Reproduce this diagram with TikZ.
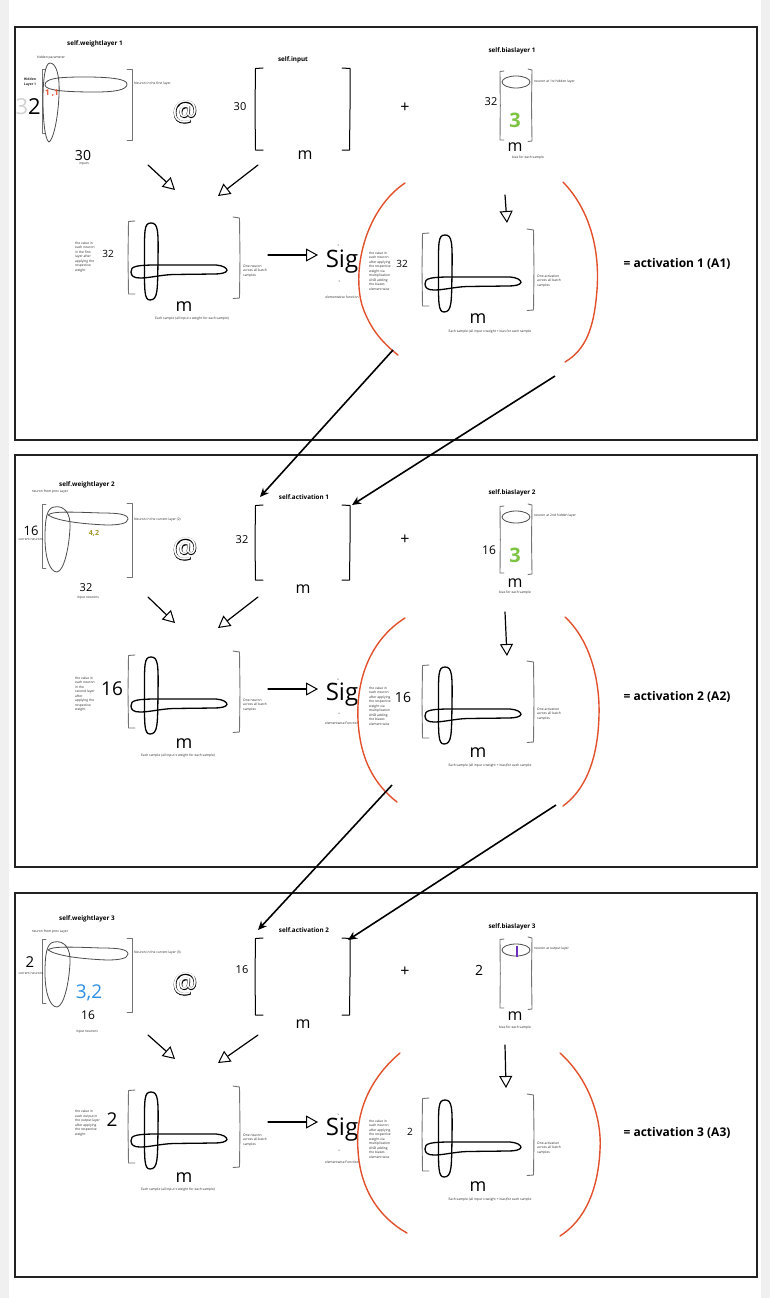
\documentclass[tikz,border=0pt]{standalone}
\usepackage{fontspec}
\setmainfont{Open Sans}
\usetikzlibrary{arrows.meta}
\definecolor{redc}{HTML}{E2512C}
\definecolor{greenc}{HTML}{7DC443}
\definecolor{bluec}{HTML}{2F8FE3}
\definecolor{olivec}{HTML}{A3962A}
\definecolor{purplec}{HTML}{6A2FC0}
\definecolor{panelc}{HTML}{222222}
\newcommand{\fsz}[1]{\fontsize{#1}{#1}\selectfont}
\font\atthick="Open Sans:embolden=3" at 28pt
\font\atthin="Open Sans" at 28pt
\newcommand{\outl}{\rlap{\atthick @}\textcolor{white}{\atthin @}}
\tikzset{
  ttl/.style={font=\fsz{6.3}\bfseries, inner sep=0},
  tinytxt/.style={font=\fontsize{3.3}{4.5}\selectfont, inner sep=0, align=left, text=black!85},
  hw/.style={inner sep=0},
  hand/.style={draw=black, line width=1.3pt, line join=round, line cap=round},
  wline/.style={draw=black!70, line width=0.8pt, line join=round, line cap=round},
  brk/.style={draw=black!55, line width=0.9pt, line cap=round, line join=round},
  redp/.style={draw=redc, line width=1.4pt, line cap=round},
  flow/.style={draw=black, line width=1.2pt, line cap=round, -{Triangle[open,length=12pt,width=13pt,line width=1pt]}},
  link/.style={draw=black, line width=1.6pt, -{Stealth[length=9pt,width=8pt]}},
  act/.style={font=\fsz{12}\bfseries, inner sep=0},
  panel/.style={draw=panelc, line width=2.5pt},
  atsym/.style={inner sep=0}
}
% matrix glyph with crossing ovals
\newcommand{\crossmat}[2]{%
\begin{scope}[shift={(#1,#2)}]
 \draw[brk] (7,3) -- (0.5,3.5) -- (0,40) -- (0.5,76) -- (7,76);
 \draw[brk] (105,-1) -- (111.5,0) -- (112,40) -- (111.5,80) -- (105,80.5);
 \draw[hand] (23,5) .. controls (30,5) and (30.5,12) .. (30,42) .. controls (29.5,72) and (30,82) .. (22,82) .. controls (16,82) and (16.5,72) .. (16.5,42) .. controls (16.5,12) and (16,5) .. (23,5) -- cycle;
 \draw[hand] (3,54) .. controls (2,48) and (10,47) .. (30,47) -- (88,47) .. controls (95,47.5) and (99,50) .. (99,52.5) .. controls (98,55) and (93,56) .. (86,56) -- (45,56.5) .. controls (32,57) and (22,60) .. (12,60) .. controls (6,60) and (3,58) .. (3,54) -- cycle;
\end{scope}}
% input matrix brackets
\newcommand{\inmat}[3]{%
\begin{scope}[shift={(#1,#2)}]
 \draw[hand, line width=1pt] (8,0) -- (0.5,0.5) -- (0,#3/2) -- (0.5,#3) -- (8,#3);
 \draw[hand, line width=1pt] (87,0) -- (95,0.5) -- (95,#3/2) -- (94.5,#3) -- (87,#3);
\end{scope}}
% bias matrix
\newcommand{\biasmat}[3]{%
\begin{scope}[shift={(#1,#2)}]
 \draw[brk] (4,1) -- (0,1.5) -- (0.3,#3/2) -- (0,#3-1) -- (4,#3-1);
 \draw[brk] (28,-1) -- (32,0) -- (31.5,#3/2) -- (32,#3) -- (28,#3+0.5);
 \draw[wline] (16,12) ellipse (14 and 6);
\end{scope}}
% weight matrix (layers 2,3)
\newcommand{\wmat}[2]{%
\begin{scope}[shift={(#1,#2)}]
 \draw[brk] (4,1) -- (0,1) -- (0,65) -- (4,65);
 \draw[brk] (85,0) -- (90,0) -- (90,74) -- (85,74);
 \draw[wline] (12,4) .. controls (22,2) and (29,10) .. (28,25) .. controls (27,45) and (22,68) .. (15,69) .. controls (8,69) and (3,55) .. (3,35) .. controls (3,15) and (5,5) .. (12,4) -- cycle;
 \draw[wline] (6,12) .. controls (10,8) and (30,9) .. (60,10) .. controls (75,10) and (86,11) .. (86,16) .. controls (86,21) and (75,22) .. (65,22) .. controls (40,21) and (15,18) .. (6,12) -- cycle;
\end{scope}}
\begin{document}
\begin{tikzpicture}[x=1pt,y=-1pt]
\useasboundingbox (0,0) rectangle (770,1298);
\fill[black!6] (0,0) rectangle (770,1298);
\fill[white] (9,0) rectangle (761,1298);

%================ PANEL 1 =================
\draw[panel] (15,27) rectangle (757,440);
% weight layer 1
\draw[brk] (45,69) -- (42,69) -- (42,133) -- (45,133);
\draw[brk] (127,69) -- (132,69) -- (132,140) -- (127,140);
\draw[wline] (50,63) .. controls (56,63) and (60,75) .. (59,95) .. controls (58,120) and (53,140) .. (49,142) .. controls (45,140) and (43,120) .. (43,100) .. controls (43,80) and (45,63) .. (50,63) -- cycle;
\draw[wline] (45,85) .. controls (45,78) and (60,77) .. (85,77) .. controls (110,77) and (127,79) .. (127,84) .. controls (127,90) and (115,92) .. (95,92) .. controls (70,92) and (45,91) .. (45,85) -- cycle;
\node[ttl] (w1t) at (95,44) {self.weightlayer 1};
\node[tinytxt] (w1hp) at (51,58) {hidden parameter};
\node[tinytxt, font=\fontsize{3.4}{5.5}\selectfont\bfseries] (w1hl) at (30,82) {Hidden\\Layer 1};
\node[hw, font=\fsz{22}, anchor=east] (w1rows) at (41,107) {\textcolor{black!18}{3}2};
\node[font=\fsz{8}\bfseries, text=redc, inner sep=0] (w1e) at (52,93) {1 ,1};
\node[tinytxt, anchor=west] (w1nl) at (134,84) {Neuron in the first layer};
\node[hw, font=\fsz{14}] (w1cols) at (83,155) {30};
\node[tinytxt] (w1in) at (84,164) {inputs};
\node[atsym] (at1) at (185,112) {\outl};
% input
\inmat{255}{68}{82}
\node[ttl] (i1t) at (293,60) {self.input};
\node[hw, font=\fsz{11}] (i1r) at (240,107) {30};
\node[hw, font=\fsz{16}] (i1m) at (305,155) {m};
\node[hw, font=\fsz{16}] (plus1) at (405,108) {+};
% bias 1
\biasmat{500}{70}{71}
\node[ttl] (b1t) at (512,51) {self.biaslayer 1};
\node[tinytxt, anchor=west] (b1n) at (534,82) {neuron at 1st hidden layer};
\node[hw, font=\fsz{11}] (b1r) at (491,102) {32};
\node[font=\fsz{20}\bfseries, text=greenc, inner sep=0] (b1v) at (515,120) {3};
\node[hw, font=\fsz{16}] (b1m) at (515,147) {m};
\node[tinytxt] (b1s) at (528,158) {bias for each sample};
% flow arrows
\coordinate (f1a) at (148,165); \coordinate (f1b) at (175,190);
\coordinate (f1c) at (258,165); \coordinate (f1d) at (218,196);
\coordinate (f1e) at (268,255); \coordinate (f1f) at (318,255);
\coordinate (f1g) at (505,195); \coordinate (f1h) at (507,223);
\draw[flow] (f1a) -- (f1b);
\draw[flow] (f1c) -- (f1d);
\draw[flow] (f1e) -- (f1f);
\draw[flow] (f1g) -- (f1h);
% Z1
\crossmat{128}{218}
\node[tinytxt, anchor=west] (z1d) at (75,257) {the value in\\each neuron\\in the first\\layer after\\applying the\\respective\\weight};
\node[hw, font=\fsz{10}] (z1r) at (108,254) {32};
\node[tinytxt, anchor=west] (z1n) at (243,271) {One neuron\\across all batch\\samples};
\node[hw, font=\fsz{18}] (z1m) at (184,307) {m};
\node[tinytxt, align=center] (z1s) at (192,319) {Each sample (all input x weight for each sample)};
% Sig
\node[hw, font=\fsz{24}] (sig1) at (342,262) {Sig};
\node[tinytxt, align=center] (sig1f) at (342,297) {elementwise function};
\fill (338,245) circle (0.5); \fill (339,281) circle (0.5);
% A1
\draw[redp] (405,183) .. controls (365,210) and (352,270) .. (362,305) .. controls (370,330) and (385,345) .. (398,355);
\draw[redp] (563,182) .. controls (590,210) and (600,250) .. (597,290) .. controls (594,330) and (585,350) .. (565,362);
\crossmat{422}{230}
\node[tinytxt, anchor=west] (a1d) at (369,271) {the value in\\each neuron\\after applying\\the respective\\weight via\\multiplication\\AND adding\\the biases\\element wise};
\node[hw, font=\fsz{10}] (a1r) at (402,264) {32};
\node[tinytxt, anchor=west] (a1n) at (537,281) {One activation\\across all batch\\samples};
\node[hw, font=\fsz{18}] (a1m) at (478,319) {m};
\node[tinytxt, align=center] (a1s) at (490,332) {Each sample (all input x weight + bias for each sample};
\node[act] (a1lab) at (677,264) {= activation 1 (A1)};

%================ PANEL 2 =================
\draw[panel] (15,455) rectangle (757,867);
\wmat{42}{503}
\node[ttl] (w2t) at (87,485) {self.weightlayer 2};
\node[tinytxt] (w2p) at (50,492) {neuron from prev Layer};
\node[tinytxt, anchor=west] (w2nl) at (134,520) {Neuron in the current layer (2)};
\node[hw, font=\fsz{13}] (w2rows) at (31,531) {16};
\node[tinytxt] (w2cn) at (31,539) {current neurons};
\node[font=\fsz{7}\bfseries, text=olivec, inner sep=0] (w2e) at (94,533) {4,2};
\node[hw, font=\fsz{11}] (w2cols) at (86,588) {32};
\node[tinytxt] (w2in) at (88,598) {input neurons};
\node[atsym] (at2) at (185,549) {\outl};
\inmat{255}{505}{75}
\node[ttl] (i2t) at (304,497) {self.activation 1};
\node[hw, font=\fsz{11}] (i2r) at (242,540) {32};
\node[hw, font=\fsz{16}] (i2m) at (303,589) {m};
\node[hw, font=\fsz{16}] (plus2) at (405,540) {+};
\biasmat{500}{505}{69}
\node[ttl] (b2t) at (512,493) {self.biaslayer 2};
\node[tinytxt, anchor=west] (b2n) at (534,516) {neuron at 2nd hidden layer};
\node[hw, font=\fsz{12}] (b2r) at (489,550) {16};
\node[font=\fsz{20}\bfseries, text=greenc, inner sep=0] (b2v) at (515,555) {3};
\node[hw, font=\fsz{16}] (b2m) at (515,583) {m};
\node[tinytxt] (b2s) at (515,593) {bias for each sample};
\coordinate (f2a) at (148,597); \coordinate (f2b) at (175,623);
\coordinate (f2c) at (258,597); \coordinate (f2d) at (218,628);
\coordinate (f2e) at (268,689); \coordinate (f2f) at (318,689);
\coordinate (f2g) at (505,612); \coordinate (f2h) at (507,656);
\draw[flow] (f2a) -- (f2b);
\draw[flow] (f2c) -- (f2d);
\draw[flow] (f2e) -- (f2f);
\draw[flow] (f2g) -- (f2h);
\crossmat{128}{652}
\node[tinytxt, anchor=west] (z2d) at (75,694) {the value in\\each neuron\\in the\\second layer\\after\\applying the\\respective\\weight};
\node[hw, font=\fsz{19}] (z2r) at (112,689) {16};
\node[tinytxt, anchor=west] (z2n) at (243,705) {One neuron\\across all batch\\samples};
\node[hw, font=\fsz{18}] (z2m) at (184,744) {m};
\node[tinytxt, align=center] (z2s) at (178,756) {Each sample (all input x weight for each sample)};
\node[hw, font=\fsz{24}] (sig2) at (342,695) {Sig};
\node[tinytxt, align=center] (sig2f) at (342,723) {elementwise Function};
\fill (338,679) circle (0.5); \fill (339,713) circle (0.5);
\draw[redp] (405,618) .. controls (370,640) and (356,680) .. (358,720) .. controls (360,760) and (375,785) .. (397,802);
\draw[redp] (565,617) .. controls (590,640) and (600,680) .. (599,715) .. controls (598,760) and (585,790) .. (563,806);
\crossmat{422}{662}
\node[tinytxt, anchor=west] (a2d) at (369,706) {the value in\\each neuron\\after applying\\the respective\\weight via\\multiplication\\AND adding\\the biases\\element wise};
\node[hw, font=\fsz{14}] (a2r) at (403,697) {16};
\node[tinytxt, anchor=west] (a2n) at (537,714) {One activation\\across all batch\\samples};
\node[hw, font=\fsz{18}] (a2m) at (478,753) {m};
\node[tinytxt, align=center] (a2s) at (490,766) {Each sample (all input x weight + bias)for each sample};
\node[act] (a2lab) at (677,697) {= activation 2 (A2)};

%================ PANEL 3 =================
\draw[panel] (15,893) rectangle (757,1277);
\wmat{42}{938}
\node[ttl] (w3t) at (87,919) {self.weightlayer 3};
\node[tinytxt] (w3p) at (50,932) {neuron from prev Layer};
\node[tinytxt, anchor=west] (w3nl) at (134,953) {Neuron in the current layer (3)};
\node[hw, font=\fsz{15}] (w3rows) at (30,962) {2};
\node[tinytxt] (w3cn) at (31,973) {current neurons};
\node[font=\fsz{19}, text=bluec, inner sep=0] (w3e) at (89,993) {3,2};
\node[hw, font=\fsz{12}] (w3cols) at (88,1015) {16};
\node[tinytxt] (w3in) at (87,1032) {input neurons};
\node[atsym] (at3) at (185,984) {\outl};
\inmat{255}{938}{77}
\node[ttl] (i3t) at (304,930) {self.activation 2};
\node[hw, font=\fsz{11}] (i3r) at (242,970) {16};
\node[hw, font=\fsz{16}] (i3m) at (303,1024) {m};
\node[hw, font=\fsz{16}] (plus3) at (405,972) {+};
\node[hw, font=\fsz{14}] (b3r) at (479,970) {2};
\biasmat{500}{938}{71}
\draw[purplec, line width=2.5pt] (517,946) -- (517,957);
\node[ttl] (b3t) at (512,927) {self.biaslayer 3};
\node[tinytxt, anchor=west] (b3n) at (534,949) {neuron at output layer};
\node[hw, font=\fsz{16}] (b3m) at (515,1016) {m};
\node[tinytxt] (b3s) at (515,1028) {bias for each sample};
\coordinate (f3a) at (148,1035); \coordinate (f3b) at (175,1059);
\coordinate (f3c) at (258,1035); \coordinate (f3d) at (218,1063);
\coordinate (f3e) at (268,1122); \coordinate (f3f) at (318,1122);
\coordinate (f3g) at (505,1045); \coordinate (f3h) at (506,1088);
\draw[flow] (f3a) -- (f3b);
\draw[flow] (f3c) -- (f3d);
\draw[flow] (f3e) -- (f3f);
\draw[flow] (f3g) -- (f3h);
\crossmat{128}{1087}
\node[tinytxt, anchor=west] (z3d) at (75,1123) {the value in\\each output in\\the output layer\\after applying\\the respective\\weight};
\node[hw, font=\fsz{19}] (z3r) at (112,1120) {2};
\node[tinytxt, anchor=west] (z3n) at (243,1140) {One neuron\\across all batch\\samples};
\node[hw, font=\fsz{18}] (z3m) at (184,1178) {m};
\node[tinytxt, align=center] (z3s) at (178,1190) {Each sample (all input x weight for each sample)};
\node[hw, font=\fsz{24}] (sig3) at (342,1130) {Sig};
\node[tinytxt, align=center] (sig3f) at (342,1162) {elementwise Function};
\fill (338,1114) circle (0.5); \fill (339,1150) circle (0.5);
\draw[redp] (400,1053) .. controls (368,1080) and (355,1115) .. (358,1150) .. controls (360,1190) and (380,1218) .. (407,1233);
\draw[redp] (560,1053) .. controls (590,1080) and (602,1120) .. (600,1150) .. controls (598,1190) and (585,1220) .. (560,1236);
\crossmat{422}{1095}
\node[tinytxt, anchor=west] (a3d) at (369,1139) {the value in\\each neuron\\after applying\\the respective\\weight via\\multiplication\\AND adding\\the biases\\element wise};
\node[hw, font=\fsz{10}] (a3r) at (410,1132) {2};
\node[tinytxt, anchor=west] (a3n) at (537,1148) {One activation\\across all batch\\samples};
\node[hw, font=\fsz{18}] (a3m) at (478,1187) {m};
\node[tinytxt, align=center] (a3s) at (490,1200) {Each sample (all input x weight + bias)for each sample};
\node[act] (a3lab) at (677,1133) {= activation 3 (A3)};

%================ LINKS =================
\coordinate (l1a) at (393,350); \coordinate (l1b) at (260,497);
\coordinate (l1c) at (555,376); \coordinate (l1d) at (352,505);
\coordinate (l2a) at (392,785); \coordinate (l2b) at (258,930);
\coordinate (l2c) at (556,805); \coordinate (l2d) at (348,940);
\draw[link] (l1a) -- (l1b);
\draw[link] (l1c) -- (l1d);
\draw[link] (l2a) -- (l2b);
\draw[link] (l2c) -- (l2d);
\end{tikzpicture}
\end{document}
